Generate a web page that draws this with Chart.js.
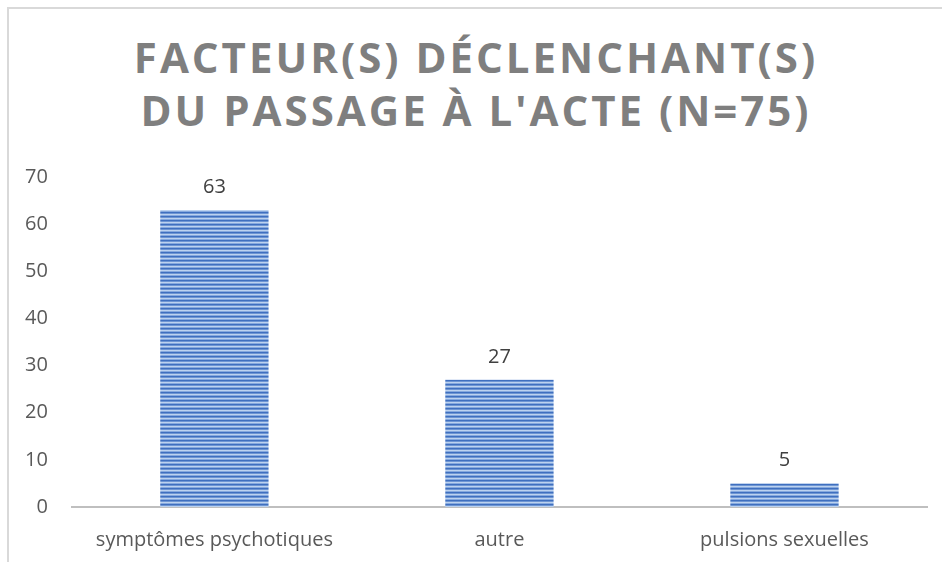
<!DOCTYPE html>
<html lang="fr">
<head>
<meta charset="utf-8">
<title>Facteur(s) déclenchant(s) du passage à l'acte</title>
<script src="https://cdn.jsdelivr.net/npm/chart.js@4/dist/chart.umd.min.js"></script>
<style>
  html, body { margin: 0; padding: 0; background: #fff; }
  #wrap { position: relative; width: 942px; height: 562px; overflow: hidden; }
  #frame {
    position: absolute; left: 7px; top: 7px; width: 960px; height: 600px;
    border-top: 2px solid #d9d9d9; border-left: 2px solid #d9d9d9;
    box-sizing: border-box;
  }
  #title {
    position: absolute; left: 0; top: 30px; width: 952px; text-align: center;
    font-family: "Open Sans", sans-serif; font-weight: bold; font-size: 42px;
    line-height: 53px; letter-spacing: 3px; color: #7f7f7f;
  }
  canvas { position: absolute; left: 0; top: 0; }
</style>
</head>
<body>
<div id="wrap">
  <div id="frame"></div>
  <div id="title">FACTEUR(S) DÉCLENCHANT(S)<br>DU PASSAGE À L'ACTE (N=75)</div>
  <canvas id="chart" width="942" height="562"></canvas>
</div>
<script>
'use strict';

// ── Data ───────────────────────────────────────────────────────────────────
const CATEGORIES = ['symptômes psychotiques', 'autre', 'pulsions sexuelles'];
const VALUES     = [63, 27, 5];
const Y_MIN = 0, Y_MAX = 70, Y_STEP = 10;

const FONT = '"Open Sans", sans-serif';

// ── Striped fill like the original bars ───────────────────────────────────
function stripePattern() {
  const c = document.createElement('canvas');
  c.width = 4; c.height = 4;
  const g = c.getContext('2d');
  const rows = ['#3f6fbf', '#6d95d3', '#bcd2ef', '#86a9de'];
  rows.forEach((col, i) => { g.fillStyle = col; g.fillRect(0, i, 4, 1); });
  return g.createPattern(c, 'repeat');
}

// value labels above each bar
const valueLabels = {
  id: 'valueLabels',
  afterDatasetsDraw(chart) {
    const ctx = chart.ctx;
    const meta = chart.getDatasetMeta(0);
    ctx.save();
    ctx.font = '20px ' + FONT;
    ctx.fillStyle = '#404040';
    ctx.textAlign = 'center';
    ctx.textBaseline = 'alphabetic';
    meta.data.forEach((bar, i) => {
      ctx.fillText(String(VALUES[i]), bar.x, bar.y - 17);
    });
    ctx.restore();
  }
};

new Chart(document.getElementById('chart'), {
  type: 'bar',
  data: {
    labels: CATEGORIES,
    datasets: [{
      data: VALUES,
      backgroundColor: stripePattern(),
      borderWidth: 0,
      barPercentage: 0.38,
      categoryPercentage: 1
    }]
  },
  options: {
    responsive: false,
    animation: false,
    layout: { padding: { left: 1, right: 15, top: 177, bottom: 0 } },
    plugins: {
      legend: { display: false },
      tooltip: { enabled: false },
      title: { display: false }
    },
    scales: {
      x: {
        grid: { display: false, drawTicks: false },
        border: { display: true, color: '#bfbfbf', width: 2 },
        ticks: { color: '#595959', font: { family: FONT, size: 20 }, padding: 21, maxRotation: 0 },
        afterFit(scale) { scale.height = 55; }
      },
      y: {
        min: Y_MIN, max: Y_MAX,
        grid: { display: false, drawTicks: false },
        border: { display: false },
        ticks: { stepSize: Y_STEP, color: '#595959', font: { family: FONT, size: 20 }, padding: 24 }
      }
    }
  },
  plugins: [valueLabels]
});
</script>
</body>
</html>
